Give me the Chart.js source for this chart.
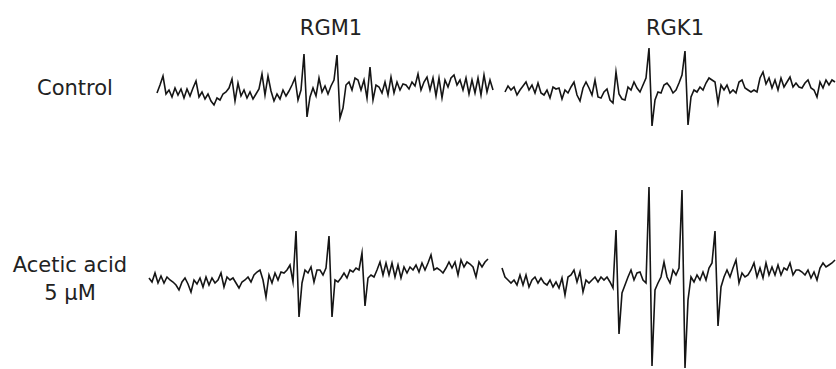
<!DOCTYPE html>
<html>
<head>
<meta charset="utf-8">
<script src="https://cdn.jsdelivr.net/npm/chart.js@4"></script>
<style>
  body { margin: 0; width: 836px; height: 369px; overflow: hidden; background: #fff; position: relative;
         font-family: "DejaVu Sans", Verdana, sans-serif; color: #222; }
  .lbl { position: absolute; font-size: 21px; text-align: center; white-space: nowrap; line-height: 26px; }
  .row2 { line-height: 28px; }
  canvas { position: absolute; }
</style>
</head>
<body>
<div class="lbl" id="col0" style="left:281px;top:15px;width:100px"></div>
<div class="lbl" id="col1" style="left:625px;top:15px;width:100px"></div>
<div class="lbl" id="row0" style="left:5px;top:75px;width:140px"></div>
<div class="lbl row2" id="row1" style="left:0px;top:251px;width:140px"></div>

<script>
const columns = ['RGM1', 'RGK1'];
const rows = ['Control', 'Acetic acid\n5 µM'];

// signal amplitude, one sample every 3 px of field sweep
const controlRGM1 = [-1,7,16,-2,2,-5,4,-3,3,-6, 3,-4,4,11,-5,0,-7,-2,-9,-13,
  -6,-8,-2,0,4,13,-9,9,-4,2, -6,0,-7,-2,3,18,-3,16,1,-9,
  -2,-7,2,-4,1,7,14,-8,2,38, -25,-5,4,-4,14,0,6,-2,6,12,
  37,-26,-16,7,10,2,14,12,2,12, -6,25,-8,7,5,-1,10,-3,15,-1,
  10,2,8,7,3,10,6,18,2,10, 15,2,14,-4,14,-6,12,5,14,17,
  7,12,2,14,-2,12,-1,14,-3,17, 0,12,2];

const controlRGK1 = [-2,4,0,3,-5,0,4,8,0,5, -3,7,-3,-5,0,-8,3,1,2,-9,
  0,-3,3,8,-5,-11,2,8,2,-5, 10,-7,-8,-2,1,-10,-13,18,-4,-9,
  -10,3,0,8,2,-2,5,12,42,-36, -10,-2,-3,5,7,3,-3,0,7,15,
  39,-35,-7,0,-2,3,0,7,12,10, 8,-13,5,0,5,-3,0,-3,8,10,
  2,0,-2,0,-2,12,18,6,12,2, 10,0,12,3,8,13,3,7,3,2,
  7,10,2,0,-7,8,2,10,5,10, 8];

const aceticRGM1 = [-3,-7,2,-8,-1,-8,-2,-5,-7,-10, -15,-7,-3,-9,-17,-5,-9,-3,-12,-2,
  -10,-3,-8,-5,2,-12,-2,-5,-3,-8, -13,-7,-5,-2,-7,0,3,5,-5,-22,
  0,-8,2,-5,3,2,5,10,-7,44, -42,-8,5,2,8,-7,5,5,0,7,
  39,-42,-5,-7,-3,2,-3,5,3,7, 5,22,-31,-3,0,-2,5,13,0,12,
  0,12,-2,10,-3,8,2,8,5,10, 3,12,5,12,20,5,7,5,2,7,
  13,7,13,0,15,8,13,11,8,-2, 13,8,13,16];

const aceticRGK1 = [7,-2,-5,-8,-5,-10,0,-10,0,-12, -5,-2,-8,-3,-8,-10,-5,-12,-7,-13,
  -3,-20,-2,0,5,-7,3,-17,-5,-8, -5,-2,-7,-2,-5,-2,-7,-13,45,-59,
  -18,-10,-2,5,-5,2,3,-5,-8,88, -91,-15,-8,-2,13,-2,-8,5,0,7,
  85,-93,-25,-2,-7,0,-5,3,-5,7, 12,44,-51,-12,-2,5,-2,7,15,-8,
  2,-2,0,5,12,-2,7,-3,12,0, 8,0,10,0,7,5,12,0,5,5,
  3,0,5,-3,3,-5,7,12,8,10, 12,15];

document.getElementById('col0').textContent = columns[0];
document.getElementById('col1').textContent = columns[1];
document.getElementById('row0').textContent = rows[0];
document.getElementById('row1').innerHTML = rows[1].replace('\n', '<br>');

const STEP = 3, PAD = 3;
const panels = [
  { data: controlRGM1, left: 157, base: 92,  top: 45,  bottom: -35 },
  { data: controlRGK1, left: 505, base: 90,  top: 50,  bottom: -45 },
  { data: aceticRGM1,  left: 149, base: 275, top: 50,  bottom: -50 },
  { data: aceticRGK1,  left: 502, base: 275, top: 100, bottom: -100 }
];

panels.forEach(p => {
  const cv = document.createElement('canvas');
  const w = (p.data.length - 1) * STEP + 2 * PAD;
  const h = p.top - p.bottom;
  cv.width = w; cv.height = h;
  cv.style.left = (p.left - PAD) + 'px';
  cv.style.top = (p.base - p.top) + 'px';
  cv.style.width = w + 'px'; cv.style.height = h + 'px';
  document.body.appendChild(cv);

  new Chart(cv.getContext('2d'), {
    type: 'line',
    data: {
      labels: p.data.map((_, i) => i),
      datasets: [{
        data: p.data,
        borderColor: '#151515',
        borderWidth: 1.6,
        pointRadius: 0,
        tension: 0,
        clip: false
      }]
    },
    options: {
      responsive: false,
      animation: false,
      devicePixelRatio: 1,
      layout: { padding: { left: PAD, right: PAD, top: 0, bottom: 0 } },
      plugins: { legend: { display: false }, tooltip: { enabled: false } },
      scales: {
        x: { display: false },
        y: { display: false, min: p.bottom, max: p.top }
      }
    }
  });
});
</script>
</body>
</html>
